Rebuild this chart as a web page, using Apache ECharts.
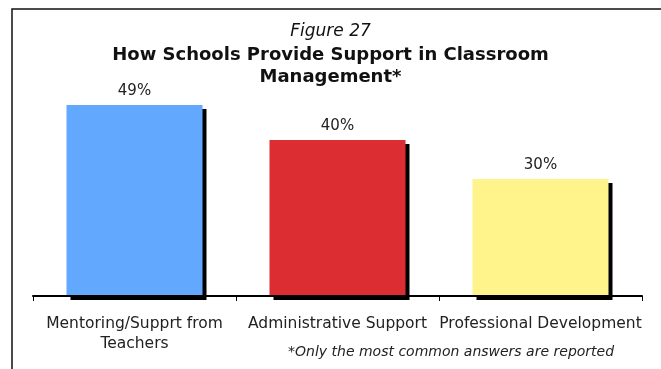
<!DOCTYPE html>
<html>
<head>
<meta charset="utf-8">
<style>
  html, body { margin: 0; padding: 0; background: #fff; }
  #chart { width: 661px; height: 369px; }
</style>
<script src="https://cdn.jsdelivr.net/npm/echarts@6/dist/echarts.min.js"></script>
</head>
<body>
<div id="chart"></div>
<script>
// Survey answers: how schools support teachers in classroom management
const categories = ['Mentoring/Supprt from\nTeachers', 'Administrative Support', 'Professional Development'];
const percentValues = [49, 40, 30];
const barColors = ['#62A8FF', '#DC2D33', '#FFF38C'];

const FONT = '"DejaVu Sans", Verdana, sans-serif';

const chart = echarts.init(document.getElementById('chart'), null, { renderer: 'canvas' });

chart.setOption({
  backgroundColor: '#ffffff',
  animation: false,
  title: [
    {
      text: 'Figure 27',
      left: 'center',
      top: 23,
      padding: 0,
      textStyle: { fontFamily: FONT, fontSize: 17, fontStyle: 'italic', fontWeight: 'normal', color: '#111', lineHeight: 17 }
    },
    {
      text: 'How Schools Provide Support in Classroom\nManagement*',
      left: 'center',
      top: 44,
      padding: 0,
      textStyle: { fontFamily: FONT, fontSize: 18, fontWeight: 'bold', color: '#111', lineHeight: 22.5 }
    },
    {
      text: '*Only the most common answers are reported',
      left: 288,
      top: 345,
      padding: 0,
      textStyle: { fontFamily: FONT, fontSize: 14, fontStyle: 'italic', fontWeight: 'normal', color: '#222', lineHeight: 14 }
    }
  ],
  graphic: [
    {
      type: 'rect',
      shape: { x: 12, y: 9, width: 660, height: 370 },
      style: { fill: 'none', stroke: '#111', lineWidth: 1.5 },
      silent: true
    }
  ],
  grid: { left: 33, right: 19, top: 101, bottom: 73, containLabel: false },
  xAxis: {
    type: 'category',
    data: categories,
    axisLine: { lineStyle: { color: '#000', width: 2 } },
    axisTick: { show: true, length: 5, lineStyle: { color: '#000', width: 1 } },
    axisLabel: {
      interval: 0,
      margin: 18,
      fontFamily: FONT,
      fontSize: 15.5,
      lineHeight: 20,
      color: '#222'
    },
    z: 5
  },
  yAxis: {
    type: 'value',
    min: 0,
    max: 50,
    show: false,
    splitLine: { show: false }
  },
  series: [
    {
      type: 'bar',
      data: percentValues.map((v, i) => ({ value: v, itemStyle: { color: barColors[i] } })),
      barWidth: 136,
      itemStyle: {
        shadowColor: '#000',
        shadowOffsetX: 4,
        shadowOffsetY: 4,
        shadowBlur: 0
      },
      label: {
        show: true,
        position: 'top',
        distance: 6,
        formatter: '{c}%',
        fontFamily: FONT,
        fontSize: 15,
        color: '#222'
      }
    }
  ]
});
</script>
</body>
</html>
